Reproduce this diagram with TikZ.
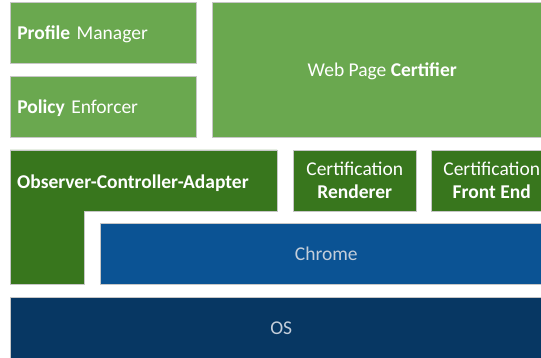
\documentclass[tikz,border=0pt]{standalone}
\usepackage{fontspec}
\setmainfont{Carlito}
\usetikzlibrary{positioning}
\definecolor{lightgreen}{RGB}{106,168,79}
\definecolor{darkgreen}{RGB}{56,118,29}
\definecolor{chromeblue}{RGB}{11,83,148}
\definecolor{osblue}{RGB}{7,55,99}
\definecolor{palebluetext}{RGB}{196,206,218}

\begin{document}
\begin{tikzpicture}[
    x=1pt, y=-1pt,
    box/.style={rectangle, draw=black!22, line width=0.5pt, anchor=north west, inner sep=0pt, text=white, font=\fontsize{19.5}{23}\selectfont, align=center, text depth=0pt, minimum height=61pt},
    lightbox/.style={box, fill=lightgreen},
    darkbox/.style={box, fill=darkgreen},
    leftbox/.style={lightbox, text width=172pt, inner xsep=7pt, align=left},
    label/.style={text=white, font=\fontsize{19.5}{23}\selectfont, text depth=0pt, inner sep=0pt}
]
\clip (0,0) rectangle (541,358);

% Top layer
\node[leftbox] (profile) at (10,2) {\textbf{Profile}~Manager};
\node[leftbox] (policy) at (10,76) {\textbf{Policy}~Enforcer};
\node[lightbox, minimum width=340pt, minimum height=135pt] (certifier) at (212,2) {Web Page \textbf{Certifier}};

% Observer-Controller-Adapter (L shape)
\fill[darkgreen, draw=black!22, line width=0.5pt] (10,150) -| (277,211) -| (84,284) -| cycle;
\node[label, anchor=west] (oca) at (17,182) {\textbf{Observer-Controller-Adapter}};

% Certification components
\node[darkbox, minimum width=123pt] (renderer) at (293,150) {Certification\\\textbf{Renderer}};
\node[darkbox, minimum width=121pt] (frontend) at (431,150) {Certification\\\textbf{Front End}};

% Chrome and OS
\node[box, fill=chromeblue, text=palebluetext, minimum width=452pt] (chrome) at (100,223) {Chrome};
\node[box, fill=osblue, text=palebluetext, minimum width=542pt, minimum height=62pt] (os) at (10,297) {OS};

\end{tikzpicture}
\end{document}
